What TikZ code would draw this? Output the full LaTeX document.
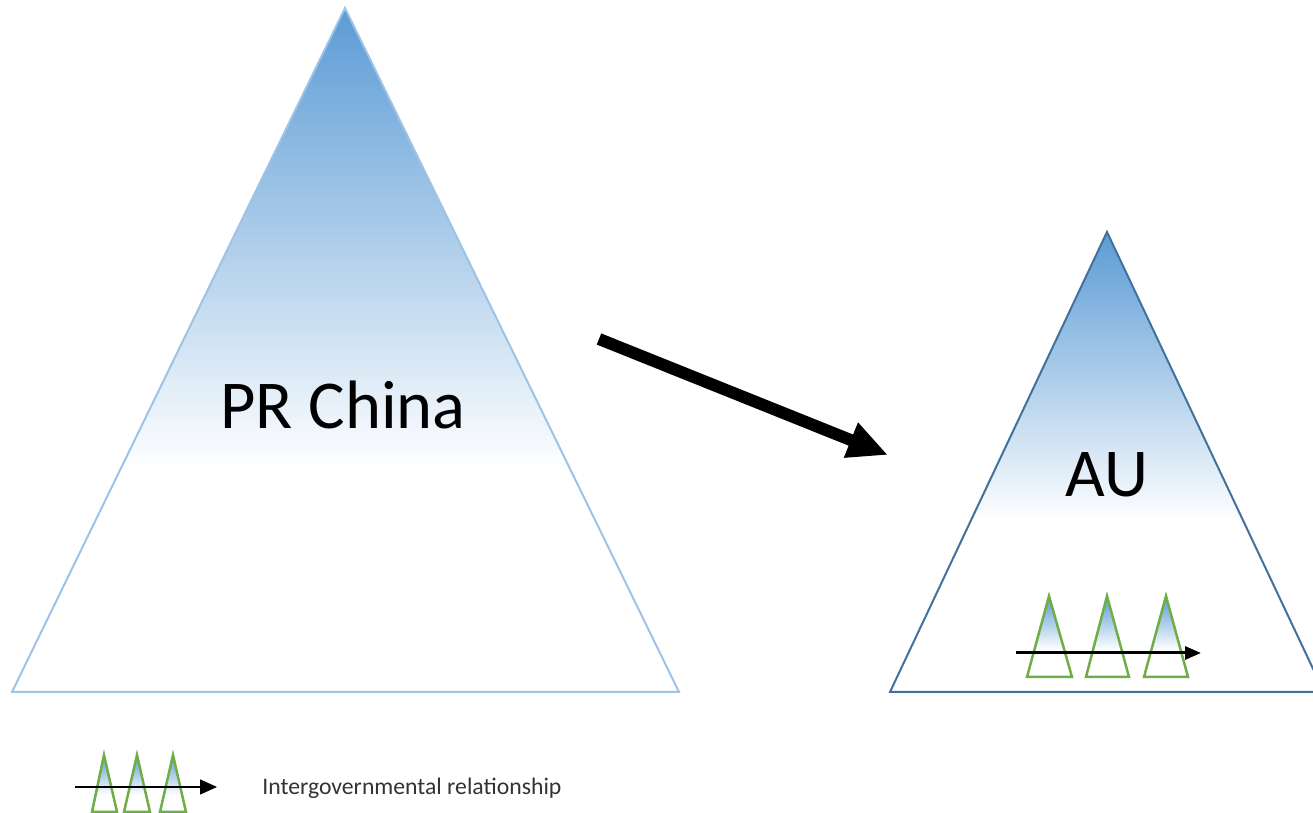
\documentclass[tikz,border=0pt]{standalone}
\usepackage{fontspec}
\setmainfont{Carlito}
\usetikzlibrary{arrows.meta}

\definecolor{topblue}{HTML}{5B9BD5}
\definecolor{lightedge}{HTML}{9DC3E6}
\definecolor{darkedge}{HTML}{41719C}
\definecolor{leafgreen}{HTML}{70AD47}

\begin{document}
\begin{tikzpicture}[x=0.02cm, y=-0.02cm]

  \useasboundingbox (0,0) rectangle (1313,813);

  % The big pyramid on the left.
  \begin{scope}
    \clip (345,8) -- (679,692) -- (12,692) -- cycle;
    \shade[top color=topblue, bottom color=white] (0,8) rectangle (700,470);
  \end{scope}
  \draw[lightedge,line width=0.04cm] (345,8) -- (679,692) -- (12,692) -- cycle;
  \node[font=\fontsize{39}{44}\selectfont] (china) at (343,405) {PR China};

  % The small pyramid on the right.
  \begin{scope}
    \clip (1107,232) -- (1324,692) -- (890,692) -- cycle;
    \shade[top color=topblue, bottom color=white] (880,232) rectangle (1330,522);
  \end{scope}
  \draw[darkedge,line width=0.04cm] (1107,232) -- (1324,692) -- (890,692) -- cycle;
  \node[font=\fontsize{39}{44}\selectfont] (au) at (1107,475) {AU};

  % Big arrow between them.
  \coordinate (bigstart) at (599,339);
  \coordinate (bigend) at (888,455);
  \draw[black,line width=0.24cm,-{Triangle[length=0.8cm,width=0.7cm]}] (bigstart) -- (bigend);

  % Small pyramids inside AU.
  \begin{scope}
    \clip (1049,596) -- (1072,677) -- (1027,677) -- cycle
          (1107,596) -- (1129,677) -- (1086,677) -- cycle
          (1166,596) -- (1188,677) -- (1144,677) -- cycle;
    \shade[top color=topblue, bottom color=white] (1020,596) rectangle (1195,650);
  \end{scope}
  \draw[leafgreen,line width=0.05cm] (1049,596) -- (1072,677) -- (1027,677) -- cycle;
  \draw[leafgreen,line width=0.05cm] (1107,596) -- (1129,677) -- (1086,677) -- cycle;
  \draw[leafgreen,line width=0.05cm] (1166,596) -- (1188,677) -- (1144,677) -- cycle;
  \coordinate (austart) at (1016,653);
  \coordinate (auend) at (1201,653);
  \draw[black,line width=0.06cm,-{Triangle[length=0.32cm,width=0.26cm]}] (austart) -- (auend);

  % Legend at the bottom.
  \begin{scope}
    \clip (104,755) -- (117,812) -- (92,812) -- cycle
          (137,755) -- (150,812) -- (124,812) -- cycle
          (173,755) -- (186,812) -- (160,812) -- cycle;
    \shade[top color=topblue, bottom color=white] (85,755) rectangle (190,795);
  \end{scope}
  \draw[leafgreen,line width=0.05cm] (104,755) -- (117,812) -- (92,812) -- cycle;
  \draw[leafgreen,line width=0.05cm] (137,755) -- (150,812) -- (124,812) -- cycle;
  \draw[leafgreen,line width=0.05cm] (173,755) -- (186,812) -- (160,812) -- cycle;
  \coordinate (keystart) at (75,787);
  \coordinate (keyend) at (217,787);
  \draw[black,line width=0.03cm,-{Triangle[length=0.34cm,width=0.3cm]}] (keystart) -- (keyend);
  \node[anchor=west,inner sep=0pt,text=black!80,font=\fontsize{13.5}{16}\selectfont] (keytext) at (262,788) {Intergovernmental relationship};

\end{tikzpicture}
\end{document}
